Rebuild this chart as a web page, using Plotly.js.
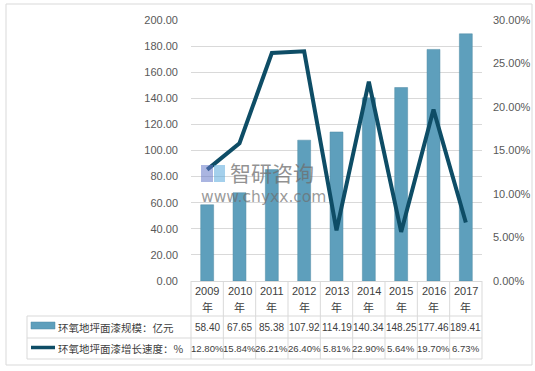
<!DOCTYPE html>
<html>
<head>
<meta charset="utf-8">
<script src="https://cdn.plot.ly/plotly-3.0.1.min.js"></script>
<style>html,body{margin:0;padding:0;background:#fff;}#chart{width:535px;height:371px;}</style>
</head>
<body>
<div id="chart"></div>
<script>
var years = ["2009", "2010", "2011", "2012", "2013", "2014", "2015", "2016", "2017"];
var yearSuffix = "年";
var scaleValues = [58.40, 67.65, 85.38, 107.92, 114.19, 140.34, 148.25, 177.46, 189.41];
var growthValues = [12.80, 15.84, 26.21, 26.40, 5.81, 22.90, 5.64, 19.70, 6.73];
var scaleName = "环氧地坪面漆规模：亿元";
var growthName = "环氧地坪面漆增长速度：%";
var leftTicks = [0, 20, 40, 60, 80, 100, 120, 140, 160, 180, 200];
var rightTicks = [0, 5, 10, 15, 20, 25, 30];

var W = 535, H = 371, L = 191, R = 482, T = 20, B = 281;
var pw = R - L, ph = B - T;
function px(x) { return (x - L) / pw; }
function py(y) { return (B - y) / ph; }

var barColor = "#5e9fbc";
var lineColor = "#0e4d66";
var gridColor = "#d9d9d9";
var textColor = "#595959";
var cellText = "#404040";
var fontFam = "'Liberation Sans', 'Noto Sans CJK SC', sans-serif";
var cjkFam = "'Noto Sans CJK SC', sans-serif";

var traces = [
  {type: "bar", x: years, y: scaleValues, name: scaleName, width: 0.4,
   marker: {color: barColor, line: {color: "#4f8aa4", width: 0.5}}, hoverinfo: "skip"},
  {type: "scatter", mode: "lines", x: years, y: growthValues, name: growthName, yaxis: "y2",
   line: {color: lineColor, width: 4}, hoverinfo: "skip"}
];

var shapes = [];
var annotations = [];
var n = years.length;
// outer border
shapes.push({type: "rect", xref: "paper", yref: "paper", x0: px(6), x1: px(532), y0: py(365), y1: py(4),
  line: {color: "#d9d9d9", width: 1}, layer: "below"});
// vertical table lines
for (var i = 0; i <= n; i++) {
  shapes.push({type: "line", xref: "paper", yref: "paper", x0: i / n, x1: i / n, y0: py(281), y1: py(359),
    line: {color: gridColor, width: 1}});
}
// left legend cell border
shapes.push({type: "line", xref: "paper", yref: "paper", x0: px(27), x1: px(27), y0: py(316), y1: py(359), line: {color: gridColor, width: 1}});
[316, 338, 359].forEach(function (yy) {
  shapes.push({type: "line", xref: "paper", yref: "paper", x0: px(27), x1: 1, y0: py(yy), y1: py(yy), line: {color: gridColor, width: 1}});
});
// legend icons
shapes.push({type: "rect", xref: "paper", yref: "paper", x0: px(31), x1: px(55), y0: py(329), y1: py(322),
  fillcolor: barColor, line: {color: "#4f8aa4", width: 0.5}});
shapes.push({type: "line", xref: "paper", yref: "paper", x0: px(31), x1: px(55), y0: py(347.5), y1: py(347.5),
  line: {color: lineColor, width: 3.5}});

annotations.push({xref: "paper", yref: "paper", x: px(56), y: py(327), xanchor: "left", yanchor: "middle",
  text: scaleName, showarrow: false, font: {family: cjkFam, size: 10.5, color: cellText}});
annotations.push({xref: "paper", yref: "paper", x: px(56), y: py(348), xanchor: "left", yanchor: "middle",
  text: growthName, showarrow: false, font: {family: cjkFam, size: 10.5, color: cellText}});

for (var j = 0; j < n; j++) {
  var cx = (j + 0.5) / n;
  annotations.push({xref: "paper", yref: "paper", x: cx, y: py(290.5), xanchor: "center", yanchor: "middle",
    text: years[j], showarrow: false, font: {family: fontFam, size: 11, color: cellText}});
  annotations.push({xref: "paper", yref: "paper", x: cx, y: py(306.5), xanchor: "center", yanchor: "middle",
    text: yearSuffix, showarrow: false, font: {family: cjkFam, size: 11, color: cellText}});
  annotations.push({xref: "paper", yref: "paper", x: cx, y: py(327), xanchor: "center", yanchor: "middle",
    text: scaleValues[j].toFixed(2), showarrow: false, font: {family: fontFam, size: 10, color: cellText}});
  annotations.push({xref: "paper", yref: "paper", x: cx, y: py(348.5), xanchor: "center", yanchor: "middle",
    text: growthValues[j].toFixed(2) + "%", showarrow: false, font: {family: fontFam, size: 9.6, color: cellText}});
}
// watermark
annotations.push({xref: "paper", yref: "paper", x: px(228), y: py(172), xanchor: "left", yanchor: "middle",
  text: "智研咨询", showarrow: false, font: {family: cjkFam, size: 21, color: "rgba(110,110,110,0.75)"}});
annotations.push({xref: "paper", yref: "paper", x: px(199), y: py(197), xanchor: "left", yanchor: "middle",
  text: "www.chyxx.com", showarrow: false, font: {family: "'DejaVu Sans', sans-serif", size: 15.5, color: "rgba(110,110,110,0.7)"}});
shapes.push({type: "rect", xref: "paper", yref: "paper", x0: px(201), x1: px(213), y0: py(182), y1: py(165),
  fillcolor: "rgba(100,120,200,0.55)", line: {width: 0}});
shapes.push({type: "rect", xref: "paper", yref: "paper", x0: px(214), x1: px(225), y0: py(182), y1: py(165),
  fillcolor: "rgba(90,170,220,0.55)", line: {width: 0}});

var layout = {
  width: W, height: H,
  margin: {l: L, r: W - R, t: T, b: H - B, pad: 0},
  paper_bgcolor: "#ffffff", plot_bgcolor: "#ffffff",
  showlegend: false,
  bargap: 0.6,
  xaxis: {type: "category", showticklabels: false, ticks: "", showgrid: false, zeroline: false,
    showline: true, linecolor: gridColor, linewidth: 1, range: [-0.5, n - 0.5], fixedrange: true},
  yaxis: {range: [0, 200], tickvals: leftTicks, ticktext: leftTicks.map(function (v) { return v.toFixed(2); }),
    showgrid: true, gridcolor: gridColor, gridwidth: 1, zeroline: false, showline: false, ticks: "",
    ticklabelstandoff: 12, tickfont: {family: fontFam, size: 11, color: textColor}},
  yaxis2: {range: [0, 30], overlaying: "y", side: "right", tickvals: rightTicks,
    ticktext: rightTicks.map(function (v) { return v.toFixed(2) + "%"; }),
    showgrid: false, zeroline: false, showline: false, ticks: "", ticklabelstandoff: 10,
    tickfont: {family: fontFam, size: 11, color: textColor}},
  shapes: shapes,
  annotations: annotations
};
Plotly.newPlot("chart", traces, layout, {staticPlot: true, displayModeBar: false});
</script>
</body>
</html>
